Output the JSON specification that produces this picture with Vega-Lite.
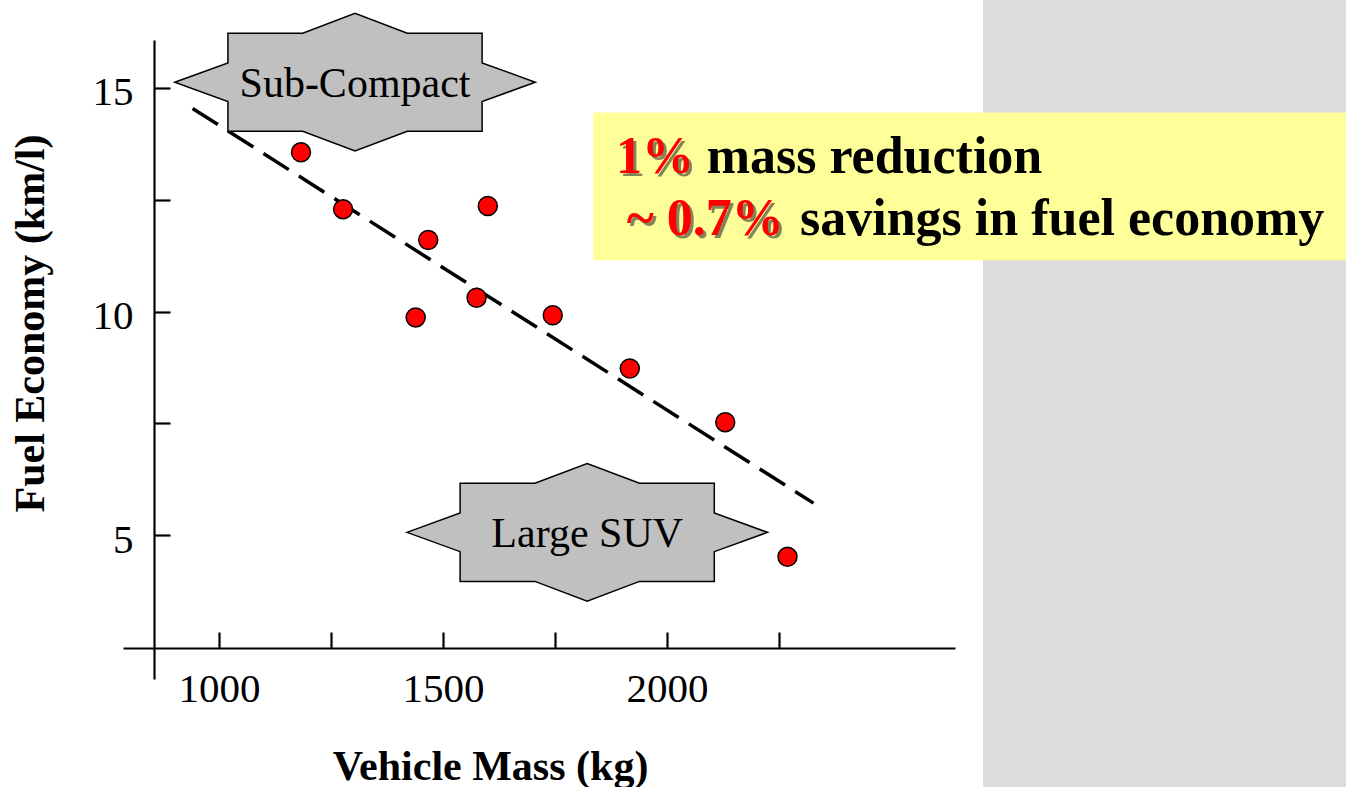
{
  "$schema": "https://vega.github.io/schema/vega-lite/v6.json",
  "width": 832,
  "height": 639,
  "autosize": {"type": "none"},
  "padding": {"left": 123, "top": 40, "right": 391, "bottom": 108},
  "background": "white",
  "config": {"view": {"stroke": null}, "font": "Liberation Serif"},
  "datasets": {
    "cars": [
      {"x": 1183, "y": 13.56},
      {"x": 1277, "y": 12.29},
      {"x": 1439, "y": 9.87},
      {"x": 1467, "y": 11.6},
      {"x": 1575, "y": 10.31},
      {"x": 1600, "y": 12.36},
      {"x": 1745, "y": 9.92},
      {"x": 1917, "y": 8.73},
      {"x": 2130, "y": 7.53},
      {"x": 2269, "y": 4.52}
    ],
    "trend": [
      {"x": 941, "y": 14.54},
      {"x": 2327, "y": 5.72}
    ],
    "panel": [{"x": 2705.4, "x2": 3600, "y": 17.3, "y2": -0.9}],
    "box": [{"x": 1835.5, "x2": 3600, "y": 14.45, "y2": 11.15}],
    "callouts": [
      {"label": "Sub-Compact", "x": 1303.6, "y": 15.127},
      {"label": "Large SUV", "x": 1821.9, "y": 5.067}
    ],
    "redText": [
      {"t": "1%", "x": 1886.2, "y": 13.088},
      {"t": "~ 0.7%", "x": 1910.0, "y": 11.709}
    ],
    "blackText": [
      {"t": "mass reduction", "x": 2088.6, "y": 13.088},
      {"t": "savings in fuel economy", "x": 2296.9, "y": 11.709}
    ]
  },
  "encoding": {
    "x": {
      "field": "x",
      "type": "quantitative",
      "scale": {"domain": [785.7, 2642.9], "zero": false, "nice": false},
      "axis": {
        "title": "Vehicle Mass (kg)",
        "values": [1000, 1250, 1500, 1750, 2000, 2250],
        "format": "d",
        "labelExpr": "datum.value % 500 === 0 ? datum.label : ''",
        "offset": -31,
        "tickSize": -16,
        "tickWidth": 2.2,
        "tickColor": "black",
        "domainColor": "black",
        "domainWidth": 2.2,
        "labelPadding": 37.6,
        "labelFont": "Liberation Serif",
        "labelFontSize": 41,
        "labelColor": "black",
        "labelOverlap": false,
        "labelFlush": false,
        "grid": false,
        "titleFont": "Liberation Serif",
        "titleFontSize": 42,
        "titleFontWeight": "bold",
        "titleColor": "black",
        "titleX": 367,
        "titleY": 131,
        "titleAlign": "center",
        "titleBaseline": "alphabetic"
      }
    },
    "y": {
      "field": "y",
      "type": "quantitative",
      "scale": {"domain": [1.79, 16.07], "zero": false, "nice": false},
      "axis": {
        "title": "Fuel Economy (km/l)",
        "values": [5, 7.5, 10, 12.5, 15],
        "labelExpr": "datum.value % 5 === 0 ? datum.label : ''",
        "offset": -31,
        "tickSize": -16,
        "tickWidth": 2.2,
        "tickColor": "black",
        "domainColor": "black",
        "domainWidth": 2.2,
        "labelPadding": 37,
        "labelBaseline": "alphabetic",
        "labelOffset": 17,
        "labelFont": "Liberation Serif",
        "labelFontSize": 41,
        "labelColor": "black",
        "labelOverlap": false,
        "labelFlush": false,
        "grid": false,
        "titleFont": "Liberation Serif",
        "titleFontSize": 42,
        "titleFontWeight": "bold",
        "titleColor": "black",
        "titleAngle": -90,
        "titleX": -111,
        "titleY": 283,
        "titleAlign": "center",
        "titleBaseline": "alphabetic"
      }
    }
  },
  "layer": [
    {
      "data": {"name": "panel"},
      "mark": {"type": "rect", "fill": "#dcdcdc", "stroke": null},
      "encoding": {"x2": {"field": "x2"}, "y2": {"field": "y2"}}
    },
    {
      "data": {"name": "box"},
      "mark": {"type": "rect", "fill": "#ffff99", "stroke": null},
      "encoding": {"x2": {"field": "x2"}, "y2": {"field": "y2"}}
    },
    {
      "data": {"name": "trend"},
      "mark": {"type": "line", "color": "black", "strokeWidth": 3.5, "strokeDash": [30, 12], "strokeCap": "butt"},
      "encoding": {}
    },
    {
      "data": {"name": "callouts"},
      "mark": {
        "type": "point",
        "filled": true,
        "fill": "#c0c0c0",
        "stroke": "black",
        "strokeWidth": 1.5,
        "opacity": 1,
        "size": 130000,
        "shape": "M-1,0L-0.705,-0.107L-0.705,-0.272L-0.29,-0.272L0,-0.382L0.29,-0.272L0.705,-0.272L0.705,-0.107L1,0L0.705,0.107L0.705,0.272L0.29,0.272L0,0.382L-0.29,0.272L-0.705,0.272L-0.705,0.107Z"
      },
      "encoding": {}
    },
    {
      "data": {"name": "callouts"},
      "mark": {"type": "text", "font": "Liberation Serif", "fontSize": 42, "color": "black", "align": "center", "baseline": "alphabetic", "dy": 15},
      "encoding": {"text": {"field": "label"}}
    },
    {
      "data": {"name": "cars"},
      "mark": {"type": "point", "shape": "circle", "filled": true, "fill": "#ff0000", "stroke": "black", "strokeWidth": 1.5, "opacity": 1, "size": 360},
      "encoding": {}
    },
    {
      "data": {"name": "redText"},
      "mark": {"type": "text", "font": "Liberation Serif", "fontWeight": "bold", "fontSize": 52, "color": "#333333", "opacity": 0.6, "align": "left", "baseline": "alphabetic", "dx": 3, "dy": 3},
      "encoding": {"text": {"field": "t"}}
    },
    {
      "data": {"name": "redText"},
      "mark": {"type": "text", "font": "Liberation Serif", "fontWeight": "bold", "fontSize": 52, "color": "#ff0000", "align": "left", "baseline": "alphabetic"},
      "encoding": {"text": {"field": "t"}}
    },
    {
      "data": {"name": "blackText"},
      "mark": {"type": "text", "font": "Liberation Serif", "fontWeight": "bold", "fontSize": 52, "color": "black", "align": "left", "baseline": "alphabetic"},
      "encoding": {"text": {"field": "t"}}
    }
  ]
}
